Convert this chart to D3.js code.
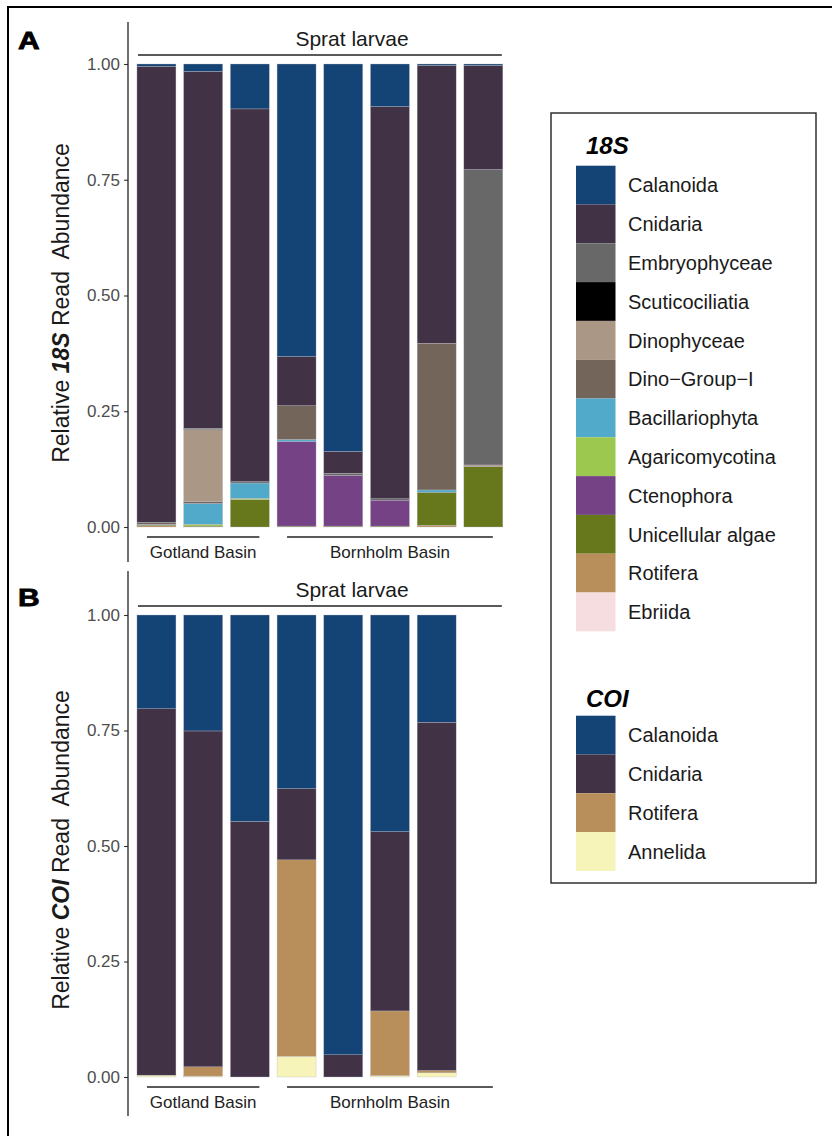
<!DOCTYPE html>
<html>
<head>
<meta charset="utf-8">
<script src="https://cdn.jsdelivr.net/npm/d3@7"></script>
<style>
  body { margin: 0; background: #fff; }
  svg text { font-family: "Liberation Sans", Arial, Helvetica, sans-serif; }
</style>
</head>
<body>
<svg id="chart" width="832" height="1136"></svg>
<script>
// ---------- DATA ----------
const samplesA = ["GB1", "GB2", "GB3", "BB1", "BB2", "BB3", "BB4", "BB5"];
const samplesB = ["GB1", "GB2", "GB3", "BB1", "BB2", "BB3", "BB4"];
const groupsA = [{name: "Gotland Basin", first: "GB1", last: "GB3"}, {name: "Bornholm Basin", first: "BB1", last: "BB5"}];
const groupsB = [{name: "Gotland Basin", first: "GB1", last: "GB3"}, {name: "Bornholm Basin", first: "BB1", last: "BB5"}];

// 18S taxa (legend order: top of stack first)
const taxa18S = ["Calanoida", "Cnidaria", "Embryophyceae", "Scuticociliatia", "Dinophyceae", "Dino\u2212Group\u2212I",
  "Bacillariophyta", "Agaricomycotina", "Ctenophora", "Unicellular algae", "Rotifera", "Ebriida"];
const colors18S = ["#144376", "#413246", "#686868", "#000000", "#ab9786", "#74655a",
  "#51aac9", "#9dc84f", "#754385", "#66781b", "#b88f5a", "#f5dde0"];

const a_Calanoida        = [0.005, 0.016, 0.097, 0.632, 0.837, 0.092, 0.003, 0.003];
const a_Cnidaria         = [0.985, 0.771, 0.805, 0.106, 0.047, 0.847, 0.600, 0.225];
const a_Embryophyceae    = [0.000, 0.003, 0.003, 0.000, 0.005, 0.003, 0.000, 0.638];
const a_Scuticociliatia  = [0, 0, 0, 0, 0, 0, 0, 0];
const a_Dinophyceae      = [0.000, 0.155, 0.000, 0.000, 0.000, 0.000, 0.000, 0.004];
const a_DinoGroupI       = [0.004, 0.004, 0.000, 0.073, 0.000, 0.000, 0.317, 0.000];
const a_Bacillariophyta  = [0.001, 0.045, 0.033, 0.004, 0.000, 0.000, 0.005, 0.000];
const a_Agaricomycotina  = [0.000, 0.004, 0.003, 0.000, 0.000, 0.000, 0.000, 0.000];
const a_Ctenophora       = [0.000, 0.000, 0.000, 0.183, 0.109, 0.056, 0.000, 0.000];
const a_Unicellular      = [0.002, 0.002, 0.059, 0.002, 0.002, 0.002, 0.071, 0.130];
const a_Rotifera         = [0.003, 0.000, 0.000, 0.000, 0.000, 0.000, 0.004, 0.000];
const a_Ebriida          = [0, 0, 0, 0, 0, 0, 0, 0];
const values18S = [a_Calanoida, a_Cnidaria, a_Embryophyceae, a_Scuticociliatia, a_Dinophyceae, a_DinoGroupI,
  a_Bacillariophyta, a_Agaricomycotina, a_Ctenophora, a_Unicellular, a_Rotifera, a_Ebriida];

// COI taxa
const taxaCOI = ["Calanoida", "Cnidaria", "Rotifera", "Annelida"];
const colorsCOI = ["#144376", "#413246", "#b88f5a", "#f6f4b8"];
const b_Calanoida = [0.203, 0.251, 0.447, 0.376, 0.952, 0.469, 0.232];
const b_Cnidaria  = [0.793, 0.727, 0.553, 0.154, 0.048, 0.388, 0.754];
const b_Rotifera  = [0.000, 0.020, 0.000, 0.425, 0.000, 0.140, 0.005];
const b_Annelida  = [0.004, 0.002, 0.000, 0.045, 0.000, 0.003, 0.009];
const valuesCOI = [b_Calanoida, b_Cnidaria, b_Rotifera, b_Annelida];

const yTicks = [0, 0.25, 0.5, 0.75, 1];
const yTickLabels = ["0.00", "0.25", "0.50", "0.75", "1.00"];
const stripLabel = "Sprat larvae";

// ---------- DRAW ----------
const svg = d3.select("#chart");

// outer frame
svg.append("rect").attr("x", 8).attr("y", 7).attr("width", 900).attr("height", 1200)
  .attr("fill", "none").attr("stroke", "#000").attr("stroke-width", 2);

const x = d3.scaleBand().domain(samplesA).range([133.1, 506.7]).paddingInner(0.165).paddingOuter(0.0825);

function panel(opts) {
  const {samples, taxa, colors, values, y0, y1, axisTop, axisBottom, label, labelY, gene, groups, titleCenter} = opts;
  const y = d3.scaleLinear().domain([0, 1]).range([y0, y1]);
  const g = svg.append("g");

  const rows = samples.map((s, i) => {
    const r = {sample: s};
    taxa.forEach((t, k) => r[t] = values[k][i]);
    return r;
  });
  const keysBottomUp = taxa.slice().reverse();
  const stack = d3.stack().keys(keysBottomUp)(rows);
  const color = d3.scaleOrdinal().domain(taxa).range(colors);

  g.selectAll("g.layer").data(stack).join("g").attr("class", "layer")
    .attr("fill", d => color(d.key))
    .selectAll("rect").data(d => d.filter(e => e[1] - e[0] > 0)).join("rect")
      .attr("x", d => x(d.data.sample))
      .attr("width", x.bandwidth())
      .attr("y", d => y(d[1]))
      .attr("height", d => y(d[0]) - y(d[1]))
      .attr("stroke", "#bdbac4").attr("stroke-width", 0.35);

  // y axis
  const axis = d3.axisLeft(y).tickValues(yTicks).tickFormat((d, i) => yTickLabels[i]).tickSize(4).tickPadding(4);
  const ag = g.append("g").attr("transform", `translate(128,0)`).call(axis);
  ag.select(".domain").remove();
  ag.selectAll(".tick line").attr("stroke", "#333").attr("stroke-width", 1.1);
  ag.selectAll(".tick text").attr("font-size", 17).attr("fill", "#4d4d4d")
    .attr("font-family", "Liberation Sans, Arial, sans-serif");
  g.append("line").attr("x1", 128).attr("x2", 128).attr("y1", axisTop).attr("y2", axisBottom)
    .attr("stroke", "#222").attr("stroke-width", 1.3);

  // strip
  const xs0 = x(samplesA[0]) + 1, xs1 = x(samplesA[samplesA.length - 1]) + x.bandwidth() - 1;
  g.append("line").attr("x1", xs0).attr("x2", xs1).attr("y1", y1 - 9).attr("y2", y1 - 9)
    .attr("stroke", "#222").attr("stroke-width", 1.6);
  g.append("text").attr("x", 352).attr("y", y1 - 18).attr("text-anchor", "middle")
    .attr("font-size", 21).attr("fill", "#1a1a1a").text(stripLabel);

  // group labels
  groups.forEach(gr => {
    const a = x(gr.first) + 10, b = x(gr.last) + x.bandwidth() - 10;
    g.append("line").attr("x1", a).attr("x2", b).attr("y1", y0 + 10).attr("y2", y0 + 10)
      .attr("stroke", "#222").attr("stroke-width", 1.6);
    g.append("text").attr("x", (a + b) / 2).attr("y", y0 + 31).attr("text-anchor", "middle")
      .attr("font-size", 17).attr("fill", "#222").text(gr.name);
  });

  // y title
  const t = g.append("text").attr("transform", `translate(69,${titleCenter}) rotate(-90)`)
    .attr("text-anchor", "middle").attr("font-size", 23).attr("fill", "#1a1a1a")
    .style("white-space", "pre");
  t.append("tspan").text("Relative ");
  t.append("tspan").attr("font-weight", "bold").attr("font-style", "italic").text(gene);
  t.append("tspan").text(" Read  Abundance");

  // panel label
  g.append("text").attr("transform", `translate(18,${labelY}) scale(1.25,1)`)
    .attr("font-size", 24).attr("font-weight", "900").attr("fill", "#000")
    .attr("stroke", "#000").attr("stroke-width", 0.8).text(label);
}

panel({samples: samplesA, taxa: taxa18S, colors: colors18S, values: values18S,
  y0: 527, y1: 64, axisTop: 22, axisBottom: 562, label: "A", labelY: 49, gene: "18S",
  groups: groupsA, titleCenter: 303});
panel({samples: samplesB, taxa: taxaCOI, colors: colorsCOI, values: valuesCOI,
  y0: 1077, y1: 615, axisTop: 571, axisBottom: 1116, label: "B", labelY: 606, gene: "COI",
  groups: groupsB, titleCenter: 850});

// ---------- LEGEND ----------
const lg = svg.append("g");
lg.append("rect").attr("x", 551).attr("y", 113).attr("width", 265).attr("height", 770)
  .attr("fill", "#fff").attr("stroke", "#222").attr("stroke-width", 1.4);

function legendBlock(title, titleY, keysTop, taxa, colors) {
  lg.append("text").attr("x", 586).attr("y", titleY).attr("font-size", 24)
    .attr("font-weight", "bold").attr("font-style", "italic").attr("fill", "#000").text(title);
  const row = 38.8;
  taxa.forEach((t, i) => {
    lg.append("rect").attr("x", 576).attr("y", keysTop + i * row).attr("width", 39.5).attr("height", row)
      .attr("fill", colors[i]);
    lg.append("text").attr("x", 628).attr("y", keysTop + i * row + row / 2).attr("dy", "0.36em")
      .attr("font-size", 20).attr("fill", "#1a1a1a").text(t);
  });
}
legendBlock("18S", 154, 165.7, taxa18S, colors18S);
legendBlock("COI", 707, 715.7, taxaCOI, colorsCOI);
</script>
</body>
</html>
